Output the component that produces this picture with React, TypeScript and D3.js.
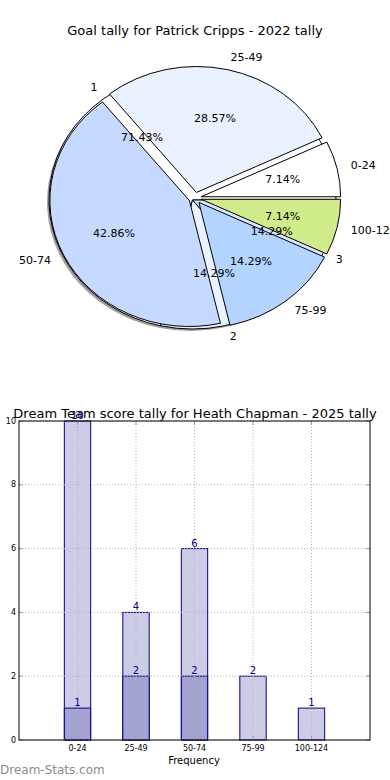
import React from "react";
import * as d3 from "d3";

// ---------- Pie data ----------
const pieTitle = "Goal tally for Patrick Cripps - 2022 tally";
const outerLabels = ["0-24", "25-49", "50-74", "75-99", "100-124"];
const outerValues = [1, 4, 6, 2, 1];
const outerColors = ["#ffffff", "#eaf1ff", "#c6d9ff", "#b3d4ff", "#d0eb8a"];
const innerLabels = ["1", "2", "3"];
const innerValues = [10, 2, 2];
const innerColors = ["#ffffff", "#eaf1ff", "#dbe7ff"];

// ---------- Bar data ----------
const barTitle = "Dream Team score tally for Heath Chapman - 2025 tally";
const barCategories = ["0-24", "25-49", "50-74", "75-99", "100-124"];
const totalValues = [10, 4, 6, 2, 1];
const subValues = [1, 2, 2, 0, 0];
const yTicks = [0, 2, 4, 6, 8, 10];
const xLabel = "Frequency";
const yLabel = "Number of Games";
const watermark = "Dream-Stats.com";

const FONT = "DejaVu Sans, sans-serif";

// Pie geometry
const CX = 195;
const CY = 198;
const RX = 139.5;
const RY = 126;
const ICX = 192.5;
const ICY = 200;
const IRX = 143.5;
const IRY = 129;

type Wedge = { t1: number; t2: number; value: number; label: string; color: string; frac: number };

function computeWedges(values: number[], labels: string[], colors: string[]): Wedge[] {
  const total = d3.sum(values);
  const arcs = d3.pie<number>().sort(null).startAngle(0).endAngle(2 * Math.PI)(values);
  return arcs.map((a, i) => ({
    t1: a.startAngle,
    t2: a.endAngle,
    value: values[i],
    label: labels[i],
    color: colors[i],
    frac: values[i] / total,
  }));
}

const unitArc = d3.arc<any>().innerRadius(0).outerRadius(1);

function wedgePath(w: Wedge) {
  // matplotlib angle (ccw from 3 o'clock) -> d3 angle (cw from 12 o'clock)
  return unitArc({ startAngle: Math.PI / 2 - w.t2, endAngle: Math.PI / 2 - w.t1 }) as string;
}

function Pie() {
  const outer = computeWedges(outerValues, outerLabels, outerColors);
  const inner = computeWedges(innerValues, innerLabels, innerColors);
  const eOuter = 0.045;

  const texts: React.ReactNode[] = [];
  const addTexts = (ws: Wedge[], rx: number, ry: number, e: number, key: string) => {
    ws.forEach((w, i) => {
      const tm = (w.t1 + w.t2) / 2;
      const c = Math.cos(tm);
      const s = Math.sin(tm);
      const ox = CX + e * rx * c;
      const oy = CY - e * ry * s;
      const lx = ox + 1.1 * rx * c;
      const ly = oy - 1.1 * ry * s;
      const px = ox + 0.6 * rx * c;
      const py = oy - 0.6 * ry * s;
      texts.push(
        <text key={key + "l" + i} x={lx} y={ly} textAnchor={c > 0 ? "start" : "end"} dominantBaseline="central" fontSize={11} fontFamily={FONT} fill="#000">
          {w.label}
        </text>
      );
      texts.push(
        <text key={key + "p" + i} x={px} y={py} textAnchor="middle" dominantBaseline="central" fontSize={11} fontFamily={FONT} fill="#000">
          {(w.frac * 100).toFixed(2) + "%"}
        </text>
      );
    });
  };
  addTexts(inner, 142, 129, 0, "in");
  addTexts(outer, RX, RY, eOuter, "out");

  return (
    <g>
      <text x={195} y={30} textAnchor="middle" dominantBaseline="central" fontSize={13} fontFamily={FONT} fill="#000">
        {pieTitle}
      </text>
      {/* shadow of inner pie */}
      <g transform={`translate(${ICX - 2},${ICY + 2}) scale(${IRX},${IRY})`}>
        {inner.map((w, i) => (
          <path key={"sh" + i} d={wedgePath(w)} fill="#808080" fillOpacity={0.75} />
        ))}
      </g>
      {/* inner pie */}
      <g transform={`translate(${ICX},${ICY}) scale(${IRX},${IRY})`}>
        {inner.map((w, i) => (
          <path key={"in" + i} d={wedgePath(w)} fill={w.color} stroke="#000" strokeWidth={1} vectorEffect="non-scaling-stroke" strokeLinejoin="round" />
        ))}
      </g>
      {/* outer pie exploded */}
      {outer.map((w, i) => {
        const tm = (w.t1 + w.t2) / 2;
        const dx = eOuter * RX * Math.cos(tm);
        const dy = -eOuter * RY * Math.sin(tm);
        return (
          <g key={"out" + i} transform={`translate(${CX + dx},${CY + dy}) scale(${RX},${RY})`}>
            <path d={wedgePath(w)} fill={w.color} stroke="#000" strokeWidth={1} vectorEffect="non-scaling-stroke" strokeLinejoin="round" />
          </g>
        );
      })}
      {texts}
    </g>
  );
}

function Bars() {
  const left = 19;
  const right = 370;
  const top = 421;
  const bottom = 740;
  const x = d3.scaleLinear().domain([-1, 5]).range([left, right]);
  const y = d3.scaleLinear().domain([0, 10]).range([bottom, top]);
  const bw = x(0.45) - x(0);
  const navy = "#000080";
  const gridColor = "#b5b5b5";

  return (
    <g>
      <text x={195} y={413} textAnchor="middle" dominantBaseline="central" fontSize={13} fontFamily={FONT} fill="#000">
        {barTitle}
      </text>
      {/* bars */}
      {totalValues.map((v, i) => (
        <rect key={"t" + i} x={x(i) - bw / 2} y={y(v)} width={bw} height={y(0) - y(v)} fill="#cccce6" stroke={navy} strokeWidth={1} />
      ))}
      {subValues.map((v, i) =>
        v > 0 ? (
          <rect key={"s" + i} x={x(i) - bw / 2} y={y(v)} width={bw} height={y(0) - y(v)} fill="#a3a3d1" stroke={navy} strokeWidth={1} />
        ) : null
      )}
      {/* grid */}
      {yTicks.map((t) => (
        <line key={"gy" + t} x1={left} x2={right} y1={y(t)} y2={y(t)} stroke={gridColor} strokeWidth={1} strokeDasharray="1,2" />
      ))}
      {barCategories.map((c, i) => (
        <line key={"gx" + c} x1={x(i)} x2={x(i)} y1={top} y2={bottom} stroke={gridColor} strokeWidth={1} strokeDasharray="1,2" />
      ))}
      {/* ticks */}
      {yTicks.map((t) => (
        <g key={"ty" + t}>
          <line x1={left} x2={left + 4} y1={y(t)} y2={y(t)} stroke="#999" />
          <line x1={right - 4} x2={right} y1={y(t)} y2={y(t)} stroke="#999" />
          <text x={left - 3} y={y(t)} textAnchor="end" dominantBaseline="central" fontSize={8} fontFamily={FONT} fill="#000">
            {t}
          </text>
        </g>
      ))}
      {barCategories.map((c, i) => (
        <g key={"tx" + c}>
          <line x1={x(i)} x2={x(i)} y1={bottom} y2={bottom - 4} stroke="#999" />
          <line x1={x(i)} x2={x(i)} y1={top} y2={top + 4} stroke="#999" />
          <text x={x(i)} y={748} textAnchor="middle" dominantBaseline="central" fontSize={8} fontFamily={FONT} fill="#000">
            {c}
          </text>
        </g>
      ))}
      <rect x={left} y={top} width={right - left} height={bottom - top} fill="none" stroke="#000" strokeWidth={1} />
      {/* value labels */}
      {totalValues.map((v, i) => (
        <text key={"vt" + i} x={x(i)} y={y(v) - 2} textAnchor="middle" fontSize={10} fontFamily={FONT} fill={navy}>
          {v}
        </text>
      ))}
      {subValues.map((v, i) =>
        v > 0 ? (
          <text key={"vs" + i} x={x(i)} y={y(v) - 2} textAnchor="middle" fontSize={10} fontFamily={FONT} fill={navy}>
            {v}
          </text>
        ) : null
      )}
      <text x={194} y={760} textAnchor="middle" dominantBaseline="central" fontSize={10} fontFamily={FONT} fill="#000">
        {xLabel}
      </text>
      <text transform={`translate(-5,575) rotate(-90)`} textAnchor="middle" dominantBaseline="central" fontSize={10} fontFamily={FONT} fill="#000">
        {yLabel}
      </text>
      <text x={0} y={770} dominantBaseline="central" fontSize={12} fontFamily={FONT} fill="#8c8c8c">
        {watermark}
      </text>
    </g>
  );
}

export default function App() {
  return (
    <div style={{ position: "absolute", left: 0, top: 0, width: 390, height: 780 }}>
      <svg width={390} height={780} viewBox="0 0 390 780" style={{ display: "block", background: "#fff" }}>
        <Pie />
        <Bars />
      </svg>
    </div>
  );
}
